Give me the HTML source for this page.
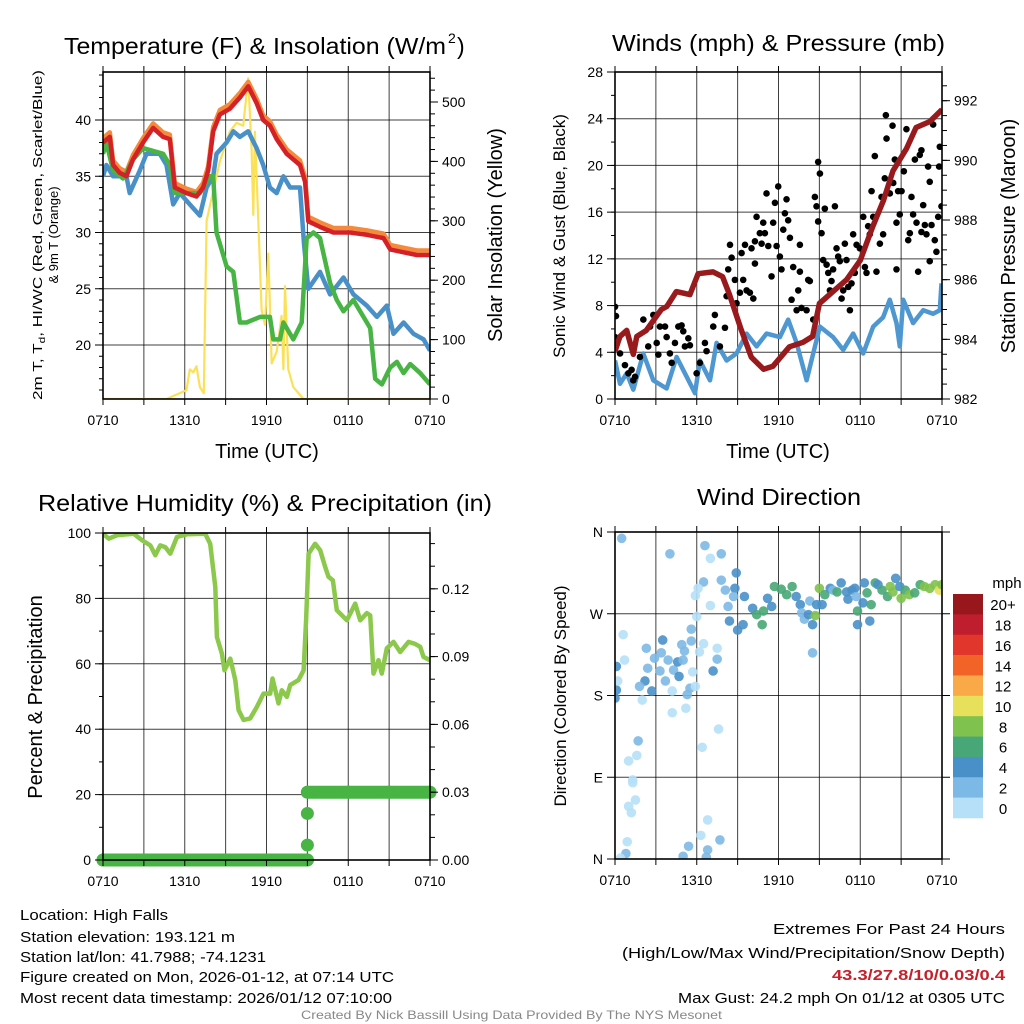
<!DOCTYPE html>
<html><head><meta charset="utf-8"><title>Mesonet Station Meteogram</title>
<style>
html,body{margin:0;padding:0;background:#fff;}
svg{display:block;font-family:"Liberation Sans",Arial,sans-serif;}
</style></head>
<body>
<svg id="chart" width="1024" height="1024" viewBox="0 0 1024 1024" xmlns="http://www.w3.org/2000/svg">
<rect x="0" y="0" width="1024" height="1024" fill="#fff"/>
<g id="layer-data"></g>
<g id="layer-axes"></g>

<!-- titles -->
<text x="64" y="54" font-size="23" textLength="382" lengthAdjust="spacingAndGlyphs">Temperature (F) &amp; Insolation (W/m</text>
<text x="448" y="43" font-size="14">2</text>
<text x="457" y="54" font-size="23">)</text>
<text x="612" y="51" font-size="23" textLength="333" lengthAdjust="spacingAndGlyphs">Winds (mph) &amp; Pressure (mb)</text>
<text x="38" y="511" font-size="23" textLength="454" lengthAdjust="spacingAndGlyphs">Relative Humidity (%) &amp; Precipitation (in)</text>
<text x="697" y="505" font-size="23" textLength="164" lengthAdjust="spacingAndGlyphs">Wind Direction</text>

<!-- axis titles -->
<text x="267" y="458" font-size="20" text-anchor="middle">Time (UTC)</text>
<text x="778" y="458" font-size="20" text-anchor="middle">Time (UTC)</text>
<text transform="translate(42,235) rotate(-90)" font-size="13" text-anchor="middle" textLength="330" lengthAdjust="spacingAndGlyphs">2m T, T<tspan font-size="9" dy="3">d</tspan><tspan dy="-3">, HI/WC (Red, Green, Scarlet/Blue)</tspan></text>
<text transform="translate(58,235) rotate(-90)" font-size="13" text-anchor="middle">&amp; 9m T (Orange)</text>
<text transform="translate(502,235) rotate(-90)" font-size="20" text-anchor="middle">Solar Insolation (Yellow)</text>
<text transform="translate(565,236) rotate(-90)" font-size="17" text-anchor="middle">Sonic Wind &amp; Gust (Blue, Black)</text>
<text transform="translate(1015,236) rotate(-90)" font-size="20" text-anchor="middle">Station Pressure (Maroon)</text>
<text transform="translate(42,697) rotate(-90)" font-size="20" text-anchor="middle">Percent &amp; Precipitation</text>
<text transform="translate(566,696) rotate(-90)" font-size="17" text-anchor="middle">Direction (Colored By Speed)</text>

<!-- colorbar -->
<g id="colorbar">
<text x="1007" y="588" font-size="15" text-anchor="middle">mph</text>
</g>

<!-- footer -->
<g>
<text x="20" y="920" font-size="15" textLength="148" lengthAdjust="spacingAndGlyphs">Location: High Falls</text>
<text x="20" y="942" font-size="15" textLength="215" lengthAdjust="spacingAndGlyphs">Station elevation: 193.121 m</text>
<text x="20" y="962" font-size="15" textLength="246" lengthAdjust="spacingAndGlyphs">Station lat/lon: 41.7988; -74.1231</text>
<text x="20" y="982" font-size="15" textLength="374" lengthAdjust="spacingAndGlyphs">Figure created on Mon, 2026-01-12, at 07:14 UTC</text>
<text x="20" y="1003" font-size="15" textLength="372" lengthAdjust="spacingAndGlyphs">Most recent data timestamp: 2026/01/12 07:10:00</text>
</g>
<g>
<text x="773" y="934" font-size="15" textLength="232" lengthAdjust="spacingAndGlyphs">Extremes For Past 24 Hours</text>
<text x="622" y="958" font-size="15" textLength="383" lengthAdjust="spacingAndGlyphs">(High/Low/Max Wind/Precipitation/Snow Depth)</text>
<text x="832" y="980" font-size="15" font-weight="bold" fill="#c8202a" textLength="173" lengthAdjust="spacingAndGlyphs">43.3/27.8/10/0.03/0.4</text>
<text x="678" y="1003" font-size="15" textLength="327" lengthAdjust="spacingAndGlyphs">Max Gust: 24.2 mph On 01/12 at 0305 UTC</text>
</g>
<text x="301" y="1019" font-size="12" fill="#888" textLength="421" lengthAdjust="spacingAndGlyphs">Created By Nick Bassill Using Data Provided By The NYS Mesonet</text>
</svg>

<script>
// ===== DATA =====
const timeTickLabels = ["0710","1310","1910","0110","0710"];
const tempRedTimes = [0,0.5,0.74,1.23,1.72,2.2,2.94,3.68,4.41,4.9,5.27,6.13,6.86,7.35,7.72,8.09,8.58,9.31,10.05,10.66,11.27,11.76,12.25,12.75,13.48,14.46,14.83,15.07,15.93,16.91,18.14,19.36,20.59,21.08,21.81,23.04,24];
const tempRedVals = [38,38.5,36,35.3,35,36.5,38,39.3,38.5,38.3,34,33.5,33.2,34,35.5,39,40.5,41,42,43,41.5,40,39.5,38.3,37,36,34.5,31,30.5,30,30,29.8,29.5,28.5,28.3,28,28];
const tempGreenTimes = [0,0.25,0.74,1.47,2.21,2.94,4.41,4.9,5.27,6.13,7.11,7.84,8.09,8.33,9.07,9.56,10.05,10.54,11.52,12.25,12.5,12.99,13.24,13.97,14.58,14.95,15.44,15.93,16.67,17.16,17.65,18.38,19.12,19.61,19.98,20.47,21.08,21.57,22.06,22.55,23.28,24];
const tempGreenVals = [37,38,35.5,34.8,36.5,37.5,37,36,33.5,33.5,33.5,35,35,30,27,26.5,22,22,22.5,22.5,20.5,20.5,22,20.5,22,29.5,30,29.5,25.5,24,23,24,22.5,21.5,17,16.5,18,18.5,17.5,18.3,17.5,16.5];
const tempBlueTimes = [0,0.25,0.74,1.72,1.96,2.7,3.19,4.17,4.66,5.15,5.64,6.37,7.11,7.6,8.09,8.33,9.07,9.56,10.05,10.66,11.27,11.76,12.25,12.75,13.24,13.73,14.46,14.75,15.07,15.93,16.67,17.65,18.38,19.36,20.1,20.83,21.32,22.06,22.79,23.53,24];
const tempBlueVals = [35,36,35,35,33.5,35.5,37,37,36,32.5,33.5,32.5,31.5,34,35,37,38,39,38.5,39,37.5,36,34,33.5,35,34,34,29,25,26.5,24.5,26,24.5,23.5,22.5,23.5,21,22,21,20.5,19.5];
const tempOrangeOffset = 0.4;
const solarTimes = [0,4.66,5.64,6.13,6.37,6.62,6.86,7.11,7.4,7.6,8.09,8.58,9.31,9.8,10.29,10.66,10.91,11.03,11.15,11.4,11.64,11.89,12.13,12.38,12.75,13.11,13.24,13.36,13.6,13.97,14.71,24];
const solarVals = [0,0,10,15,50,45,55,20,10,300,350,400,450,465,460,540,420,310,450,300,150,125,245,60,80,140,50,190,50,20,0,0];
const tempTicks = [20,25,30,35,40];
const solarTicks = [0,100,200,300,400,500];
const windTimes = [0,0.37,0.86,1.34,2.08,2.81,3.79,4.52,5.26,5.87,6.23,6.97,7.46,8.19,8.92,9.66,10.39,11.12,12.1,12.71,13.33,14.06,14.55,15.04,16.01,16.75,17.48,18.22,18.95,19.68,20.17,20.66,20.9,21.15,21.88,22.62,23.35,23.84,23.96];
const windVals = [3.3,1.3,2.2,0.8,3.9,1.6,0.9,3.6,1.9,0.5,3.3,1.6,4.8,3.3,3.9,5.6,4.5,5.6,5.3,6.8,4.8,1.6,3.9,6.2,5.3,4.2,5.6,3.9,6.2,7,8.5,6.5,4.5,8.5,6.5,7.6,7.3,7.6,9.9];
const gustTimes = [0,0.07,0,0.37,0.73,0.98,1.34,1.22,1.47,1.83,2.08,2.44,2.57,2.81,3.06,3.18,3.3,3.67,3.79,4.03,4.16,4.4,4.65,4.89,5.01,5.13,5.38,5.5,5.99,6.23,6.6,6.72,7.21,7.33,7.7,8.07,8.19,8.31,8.56,8.44,8.8,8.92,9.17,9.29,9.41,9.54,9.66,9.9,10.02,10.15,10.27,10.27,10.39,10.63,10.76,10.88,11,11.12,11.25,11.49,11.61,11.74,11.86,11.98,12.1,12.22,12.35,12.47,12.59,12.71,12.84,12.96,13.08,13.33,13.45,13.57,13.57,13.69,14.06,14.18,14.3,14.55,14.67,14.79,14.91,14.91,15.04,15.16,15.28,15.4,15.53,15.65,15.77,15.89,16.01,16.14,16.26,16.38,16.5,16.63,16.75,16.87,16.99,17.12,17.24,17.36,17.48,17.6,17.73,17.97,18.22,18.34,18.46,18.58,18.7,18.83,18.95,19.07,19.19,19.44,19.56,19.68,19.8,19.88,19.93,20.17,20.37,20.42,20.54,20.66,20.66,20.78,20.9,21.03,21.2,21.39,21.52,21.64,21.76,21.88,22.01,22.13,22.25,22.37,22.49,22.49,22.62,22.74,22.86,22.98,23.1,23.1,23.23,23.35,23.47,23.59,23.72,23.79,23.84,23.96];
const gustVals = [7.9,7.1,5.3,3.9,2.9,2.2,1.6,2.5,1.9,3.6,6.8,4.5,6.2,7.2,4.8,3.8,6.2,6.2,5.3,3.9,3.1,4.8,6.2,6.3,5.8,4.5,5.2,4.6,2.2,3.1,4.8,4.1,6.2,7.2,4.5,6.1,8.8,11.1,12.1,13.2,10.2,8.2,9.1,12.5,10.2,13.2,9.3,9.1,12.9,8.6,11.6,13.5,15.6,14.2,13.3,15.1,14.2,17.6,13.1,10.5,15.1,16.8,13.1,18.2,12.2,11.1,14.5,15.9,17.1,15.3,13.8,8.5,11.3,7.6,9.3,10.9,13.2,7.8,7.6,10.2,10.1,6.8,17.3,16.5,15.2,20.3,19.3,14.2,11.9,16.3,11.5,10.8,9.3,10.1,11.1,16.5,12.9,12.2,11.8,8.6,9.3,13.3,11.9,9.6,7.6,9.9,14.1,10.8,13.2,12.9,15.6,11.3,10.8,14.8,14.1,17.8,15.6,20.8,10.9,13.3,17.3,14.1,18.9,24.3,22.3,17.6,23.4,18.5,20.5,15.1,11.1,17.8,15.8,17.8,19.5,23.1,13.6,14.2,17.3,15.8,20.5,15.1,10.9,20.9,21.3,14.3,16.6,14.9,14.1,19.9,18.6,11.8,14.9,23.5,13.6,12.6,15.6,19.9,21.6,16.5];
const pressTimes = [0,0.37,0.86,1.34,1.6,2.3,3.4,3.8,4.5,5.5,6.1,7.2,7.9,8.4,9.2,10,10.9,11.6,12.8,13.8,14.5,15,16,17,18,18.9,19.7,20.4,21.4,22.1,23.1,24];
const pressVals = [983.6,984.1,984.3,983.5,984.1,984.3,985,985.1,985.6,985.5,986.2,986.26,986.1,985.5,984.4,983.4,983,983.1,983.75,983.9,984.1,985.2,985.6,986,986.65,987.76,988.65,989.65,990.4,991.1,991.3,991.7];
const windTicks = [0,4,8,12,16,20,24,28];
const pressTicks = [982,984,986,988,990,992];
const rhTimes = [0,0.42,1.03,2.25,2.86,3.47,3.84,4.2,4.57,4.94,5.43,6.16,7.5,7.87,8.24,8.36,8.73,8.92,9.34,9.71,9.95,10.32,10.8,11.29,11.78,12.27,12.44,12.88,13.12,13.5,13.74,14.35,14.72,14.91,15.09,15.57,15.94,16.31,16.55,16.87,17.16,17.9,18.51,18.88,19.36,19.61,19.85,20.22,20.46,20.83,21.32,21.81,22.42,22.91,23.28,23.52,24];
const rhVals = [99.8,98.3,99.3,99.8,97.8,96.2,93.2,96.2,95.7,93.7,98.8,99.6,99.8,96.7,83.5,68.2,63.1,58,61.6,55,45.8,42.8,43.3,46.8,50.9,50.9,55.5,47.9,51.9,49.9,53.5,55,58,73.3,93.7,96.7,94.7,89.6,86.6,85.5,76.4,73.3,78.4,73.3,75.5,74.8,57,61.1,57,64.7,66.7,63.6,66.7,66.1,65.2,62.1,61.1];
const precipTimes = [0,3,6,9,12,15,15,15,15,18,21,24];
const precipVals = [0,0,0,0,0,0,0.0066,0.0206,0.03,0.03,0.03,0.03];
const rhTicks = [0,20,40,60,80,100];
const precipTicks = [0,0.03,0.06,0.09,0.12];
const precipTickLabels = ["0.00","0.03","0.06","0.09","0.12"];
const dirTimes = [0,0.1,0.1,0.2,0.6,0.7,2,2.2,1.8,2.3,2.7,2.4,2.9,3.4,3.5,3.3,3.7,3.9,4.2,4.3,4.6,4.7,4.9,5.1,5,5.3,5.5,5.6,5.6,5.7,5.9,6.2,6.5,7.2,7.5,7.5,4.2,5.2,7.6,6.4,1.7,1.6,1,1.3,1.3,1.5,1,1.2,0.9,0.8,0.4,6.8,6.3,5.4,6.8,7.7,5,6.7,0.49,4.03,6.6,7.8,7,8.9,6.5,7.8,6.1,5.9,8.8,8.1,8.7,7,6,8.3,8.4,9,9.4,9.5,10.1,10.4,10.9,10.8,11.2,11.5,11.7,12.2,12.6,13,13.3,13.6,13.7,13.9,14.2,14.3,14.5,14.5,14.7,14.8,15,15.2,15.4,15.8,16,16.3,16.6,17,17.1,17.4,17.6,17.7,17.8,17.8,18.2,18.3,18.5,18.7,18.8,19.1,19.3,19.6,20,20.2,20.4,20.6,20.9,21,21.3,21.6,22,22.4,22.7,23.1,23.5,23.8,24];
const dirVals = [177,186,212,196,247,219,175,196,190,232,185,210,221,227,241,207,196,219,185,208,217,201,236,229,219,181,188,240,253,206,190,228,237,207,220,232,161,166,143,123,130,114,108,87,84,65,58,51,19,6,1,43,26,14,10,21,3,2,353,336,345,336,331,315,305,307,298,290,298,296,289,279,267,278,262,252,258,289,276,269,273,258,287,278,300,297,291,300,289,280,271,264,269,284,258,227,268,280,298,280,291,298,296,294,304,294,286,296,298,289,273,258,282,304,293,262,280,304,302,296,289,300,294,309,300,287,296,291,293,302,300,298,302,296,302];
const dirSpeeds = [4,4,4,1,1,1,1,4,2,2,4,2,2,2,4,2,2,2,1,2,4,4,2,2,2,2,2,2,2,1,1,1,1,4,2,1,1,1,1,1,2,1,1,1,1,1,1,1,1,2,1,1,1,2,2,2,2,2,2,2,2,2,1,4,2,2,1,1,4,2,2,1,1,2,4,4,4,4,4,6,6,6,4,4,6,6,6,6,4,4,2,2,4,2,4,2,8,4,8,4,6,4,2,6,4,4,4,4,4,2,6,4,4,4,6,4,6,6,4,6,6,8,8,4,4,8,6,8,6,6,8,8,8,10,8];
const speedBinLabels = ["0","2","4","6","8","10","12","14","16","18","20+"];
const speedBinColors = ["#b5e0f7","#7db9e6","#4a90c8","#48a776","#7fc24d","#e6e05a","#f9a947","#f26328","#e0362b","#be1e2d","#98171d"];
const dirTicks = [0,90,180,270,360];
const dirTickLabels = ["N","E","S","W","N"];

// ===== DRAWING =====
const NS = "http://www.w3.org/2000/svg";
const dataLayer = document.getElementById("layer-data");
const axesLayer = document.getElementById("layer-axes");
function mk(tag, attrs, parent) {
  const e = document.createElementNS(NS, tag);
  for (const k in attrs) e.setAttribute(k, attrs[k]);
  (parent || dataLayer).appendChild(e);
  return e;
}
function linScale(d0, d1, r0, r1) { return v => r0 + (v - d0) / (d1 - d0) * (r1 - r0); }

const panels = {
  temp: {x0:103, x1:430, y0:72, y1:399},
  wind: {x0:615, x1:942, y0:72, y1:399},
  rh:   {x0:103, x1:430, y0:533, y1:860},
  dir:  {x0:615, x1:942, y0:532, y1:859}
};
for (const k in panels) {
  const p = panels[k];
  p.x = linScale(0, 24, p.x0, p.x1);
}
panels.temp.y = linScale(20, 40, 345, 120);
panels.temp.y2 = linScale(0, 500, 399, 102);
panels.wind.y = linScale(0, 28, 399, 72);
panels.wind.y2 = linScale(982, 992, 399, 100.7);
panels.rh.y = linScale(0, 100, 860, 533);
panels.rh.y2 = linScale(0, 0.03, 860, 792.2);
panels.dir.y = linScale(0, 360, 859, 532);

function drawGrid(p, name, hTicks, yFn) {
  for (let i = 1; i < 8; i++) {
    const gx = p.x(i * 3);
    const l = mk("line", {x1:gx, x2:gx, y1:p.y0, y2:p.y1, stroke:"#000", "stroke-width":1, opacity:0.75}, dataLayer);
    
    
  }
  hTicks.forEach(v => {
    const gy = yFn(v);
    if (gy <= p.y0 + 1 || gy >= p.y1 - 1) return;
    const l = mk("line", {x1:p.x0, x2:p.x1, y1:gy, y2:gy, stroke:"#000", "stroke-width":1, opacity:0.75}, dataLayer);
    
    
  });
}
function drawFrame(p, name) {
  const r = mk("rect", {x:p.x0, y:p.y0, width:p.x1-p.x0, height:p.y1-p.y0, fill:"none", stroke:"#000", "stroke-width":1.6}, axesLayer);
  
  
  for (let i = 0; i <= 8; i++) {
    const gx = p.x(i * 3);
    mk("line", {x1:gx, x2:gx, y1:p.y1, y2:p.y1+6, stroke:"#000", "stroke-width":1}, axesLayer);
    mk("line", {x1:gx, x2:gx, y1:p.y0, y2:p.y0-6, stroke:"#000", "stroke-width":1}, axesLayer);
  }
  timeTickLabels.forEach((lab, i) => {
    const t = mk("text", {x:p.x(i*6), y:p.y1+26, "font-size":14, "text-anchor":"middle"}, axesLayer);
    t.textContent = lab;
    
    
  });
}
function leftTicks(p, name, ticks, labels, yFn, minorStep, minorFrom, minorTo) {
  if (minorStep) {
    for (let v = minorFrom; v <= minorTo + 1e-9; v += minorStep) {
      const gy = yFn(v);
      if (gy < p.y0 || gy > p.y1) continue;
      mk("line", {x1:p.x0-4, x2:p.x0, y1:gy, y2:gy, stroke:"#000", "stroke-width":1}, axesLayer);
    }
  }
  ticks.forEach((v, i) => {
    const gy = yFn(v);
    mk("line", {x1:p.x0-8, x2:p.x0, y1:gy, y2:gy, stroke:"#000", "stroke-width":1}, axesLayer);
    const t = mk("text", {x:p.x0-12, y:gy+5, "font-size":14, "text-anchor":"end"}, axesLayer);
    t.textContent = labels[i];
    
    
  });
}
function rightTicks(p, name, ticks, labels, yFn, minorStep, minorFrom, minorTo) {
  if (minorStep) {
    for (let v = minorFrom; v <= minorTo + 1e-9; v += minorStep) {
      const gy = yFn(v);
      if (gy < p.y0 || gy > p.y1) continue;
      mk("line", {x1:p.x1, x2:p.x1+5, y1:gy, y2:gy, stroke:"#000", "stroke-width":1}, axesLayer);
    }
  }
  ticks.forEach((v, i) => {
    const gy = yFn(v);
    mk("line", {x1:p.x1, x2:p.x1+8, y1:gy, y2:gy, stroke:"#000", "stroke-width":1}, axesLayer);
    const t = mk("text", {x:p.x1+12, y:gy+5, "font-size":14, "text-anchor":"start"}, axesLayer);
    t.textContent = labels[i];
    
    
  });
}
function pathD(times, vals, xFn, yFn) {
  return times.map((t, i) => (i ? "L" : "M") + xFn(t).toFixed(1) + "," + yFn(vals[i]).toFixed(1)).join("");
}
function clip(id, p) {
  let defs = document.getElementById("defs");
  if (!defs) { defs = mk("defs", {id:"defs"}, document.getElementById("chart")); }
  const cp = mk("clipPath", {id:id}, defs);
  mk("rect", {x:p.x0, y:p.y0, width:p.x1-p.x0, height:p.y1-p.y0}, cp);
}

// ---- Temperature panel ----
const pt = panels.temp;
clip("clip-temp", pt);
drawGrid(pt, "temperature", tempTicks, pt.y);
const gT = mk("g", {"clip-path":"url(#clip-temp)"});


const solarLine = mk("path", {d:pathD(solarTimes, solarVals, pt.x, pt.y2), fill:"none", stroke:"#fbe158", "stroke-width":2.2, "stroke-linejoin":"round"}, gT);


const orangeLine = mk("path", {d:pathD(tempRedTimes, tempRedVals.map(v => v + tempOrangeOffset), pt.x, pt.y), fill:"none", stroke:"#f58a3a", "stroke-width":4.5, "stroke-linejoin":"round"}, gT);


const blueLine = mk("path", {d:pathD(tempBlueTimes, tempBlueVals, pt.x, pt.y), fill:"none", stroke:"#4a90c8", "stroke-width":4.5, "stroke-linejoin":"round"}, gT);


const greenLine = mk("path", {d:pathD(tempGreenTimes, tempGreenVals, pt.x, pt.y), fill:"none", stroke:"#47b443", "stroke-width":4.5, "stroke-linejoin":"round"}, gT);


const redLine = mk("path", {d:pathD(tempRedTimes, tempRedVals, pt.x, pt.y), fill:"none", stroke:"#d42027", "stroke-width":4.5, "stroke-linejoin":"round"}, gT);


drawFrame(pt, "temperature");
leftTicks(pt, "temperature", tempTicks, tempTicks.map(String), pt.y, 1, 16, 44);
rightTicks(pt, "solar", solarTicks, solarTicks.map(String), pt.y2, 20, 0, 540);

// ---- Wind panel ----
const pw = panels.wind;
clip("clip-wind", pw);
drawGrid(pw, "wind", windTicks, pw.y);
const gW = mk("g", {"clip-path":"url(#clip-wind)"});


const windLine = mk("path", {d:pathD(windTimes, windVals, pw.x, pw.y), fill:"none", stroke:"#4f97d0", "stroke-width":4.5, "stroke-linejoin":"round"}, gW);


gustTimes.forEach((t, i) => {
  const c = mk("circle", {cx:pw.x(t), cy:pw.y(gustVals[i]), r:3.3, fill:"#000"}, gW);
  
  
});
const pressLine = mk("path", {d:pathD(pressTimes, pressVals, pw.x, pw.y2), fill:"none", stroke:"#991a1d", "stroke-width":5.5, "stroke-linejoin":"round"}, gW);


drawFrame(pw, "wind");
leftTicks(pw, "wind", windTicks, windTicks.map(String), pw.y, 2, 0, 28);
rightTicks(pw, "pressure", pressTicks, pressTicks.map(String), pw.y2, 0.5, 982, 992.5);

// ---- Humidity panel ----
const pr = panels.rh;
clip("clip-rh", pr);
drawGrid(pr, "humidity", rhTicks, pr.y);
const gR = mk("g", {"clip-path":"url(#clip-rh)"});


const rhLine = mk("path", {d:pathD(rhTimes, rhVals, pr.x, pr.y), fill:"none", stroke:"#8cc84b", "stroke-width":4.5, "stroke-linejoin":"round"}, gR);


const gP = mk("g", {}, dataLayer);


for (let i = 1; i < precipTimes.length; i++) {
  if (precipVals[i] === precipVals[i-1]) {
    const s = mk("line", {x1:pr.x(precipTimes[i-1]), x2:pr.x(precipTimes[i]), y1:pr.y2(precipVals[i]), y2:pr.y2(precipVals[i]), stroke:"#47b443", "stroke-width":13, "stroke-linecap":"round"}, gP);
    
    
  }
}
precipTimes.forEach((t, i) => {
  const c = mk("circle", {cx:pr.x(t), cy:pr.y2(precipVals[i]), r:6.5, fill:"#47b443"}, gP);
  
  
});
drawFrame(pr, "humidity");
leftTicks(pr, "humidity", rhTicks, rhTicks.map(String), pr.y, 10, 0, 100);
rightTicks(pr, "precipitation", precipTicks, precipTickLabels, pr.y2, 0.01, 0, 0.14);

// ---- Direction panel ----
const pd = panels.dir;
clip("clip-dir", pd);
drawGrid(pd, "direction", dirTicks, pd.y);
const gD = mk("g", {"clip-path":"url(#clip-dir)"});


dirTimes.forEach((t, i) => {
  const bin = Math.min(10, Math.floor(dirSpeeds[i] / 2));
  const c = mk("circle", {cx:pd.x(t), cy:pd.y(dirVals[i]), r:4.8, fill:speedBinColors[bin], opacity:0.9}, gD);
  
  
});
drawFrame(pd, "direction");
leftTicks(pd, "direction", dirTicks, dirTickLabels, pd.y, 0, 0, 0);
dirTicks.forEach(v => {
  mk("line", {x1:pd.x1, x2:pd.x1+8, y1:pd.y(v), y2:pd.y(v), stroke:"#000", "stroke-width":1}, axesLayer);
});

// ---- Colorbar ----
const cb = document.getElementById("colorbar");
const cbTop = 594, cbH = 224 / 11;
speedBinColors.slice().reverse().forEach((col, i) => {
  const r = mk("rect", {x:953, y:cbTop + i*cbH, width:30, height:cbH + 0.3, fill:col}, cb);
  
  
});
speedBinLabels.slice().reverse().forEach((lab, i) => {
  const t = mk("text", {x:1003, y:cbTop + i*cbH + cbH/2 + 6, "font-size":15, "text-anchor":"middle"}, cb);
  t.textContent = lab;
  
  
});
</script>
</body></html>
